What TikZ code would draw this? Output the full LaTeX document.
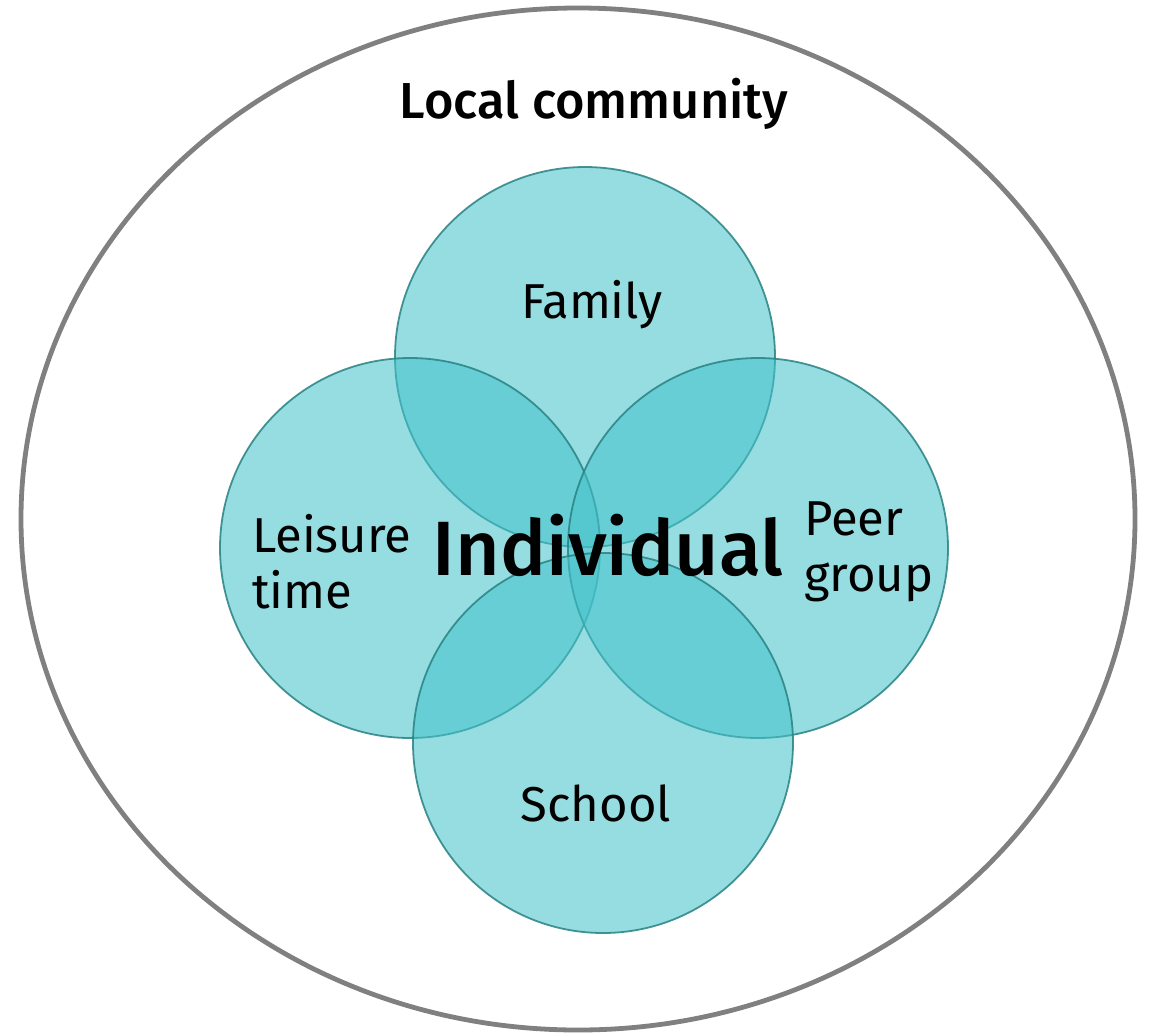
\documentclass[tikz,border=0pt]{standalone}
\usepackage{fontspec}
\setmainfont{Fira Sans}
\newfontfamily\medfont{Fira Sans}[UprightFont=* Medium]
\usepackage{tikz}
\usetikzlibrary{positioning, shapes.geometric}
\definecolor{tealfill}{RGB}{68,194,203}
\definecolor{tealline}{RGB}{40,130,130}
\definecolor{ringgray}{RGB}{128,128,128}

\begin{document}
\begin{tikzpicture}
    [x=0.5pt, y=-0.5pt,
     sphere/.style={circle, draw=tealline, line width=0.9pt, fill=tealfill,
       fill opacity=0.56, draw opacity=0.85, text opacity=1,
       minimum size=190pt, inner sep=0pt},
     label text/.style={font=\fontsize{24.5}{28}\selectfont, text=black},
     side text/.style={label text, align=left, anchor=north west}]
    \useasboundingbox (0,0) rectangle (1151,1034);
    \node[ellipse, draw=ringgray, line width=2.4pt, minimum width=557pt,
      minimum height=511pt, inner sep=0pt] (community) at (578,519) {};
    \node[font=\medfont\fontsize{25.3}{27}\selectfont] (local) at (594,104)
      {Local community};

    \node[sphere] (family) at (585,357) {};
    \node[sphere] (leisure) at (410,548) {};
    \node[sphere] (peer) at (758,548) {};
    \node[sphere] (school) at (603,743) {};

    \node[label text] (familytxt) at (592,305) {Family};
    \node[label text] (schooltxt) at (596,803) {School};
    \node[side text] (leisuretxt) at (245,507) {Leisure\\time};
    \node[side text] (peertxt) at (797,495) {Peer\\group};
    \node[font=\medfont\fontsize{38.5}{40}\selectfont] (individual) at (608,545)
      {Individual};
\end{tikzpicture}
\end{document}
